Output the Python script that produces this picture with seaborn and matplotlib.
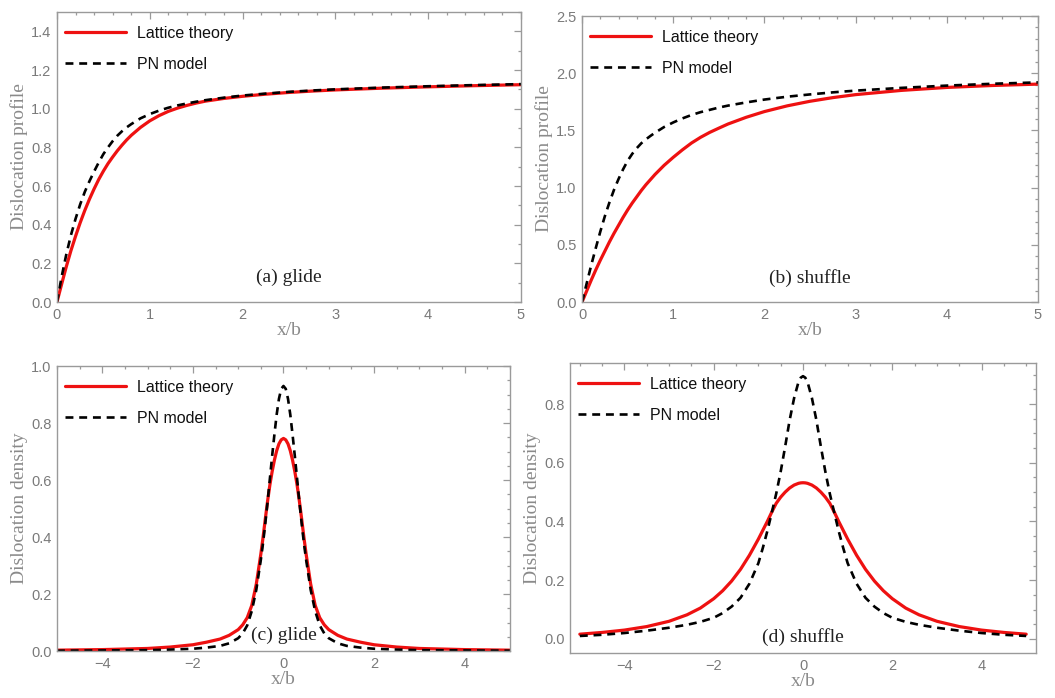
import numpy as np
import pandas as pd
import matplotlib
matplotlib.use("Agg")
import matplotlib.pyplot as plt
import seaborn as sns
from matplotlib.ticker import MultipleLocator, FuncFormatter

# ---------------- data ----------------
x_prof = [0, 0.05, 0.1, 0.15, 0.2, 0.25, 0.3, 0.35, 0.4, 0.45, 0.5, 0.55, 0.6, 0.65, 0.7, 0.75,
          0.8, 0.9, 1.0, 1.1, 1.2, 1.3, 1.4, 1.5, 1.6, 1.8, 2.0, 2.25, 2.5, 2.75, 3.0, 3.5, 4.0, 4.5, 5.0]

glide_lattice_prof = [0, 0.092, 0.182, 0.265, 0.34, 0.41, 0.474, 0.532, 0.585, 0.634, 0.677, 0.716,
                      0.75, 0.782, 0.811, 0.838, 0.862, 0.903, 0.937, 0.964, 0.986, 1.003, 1.017,
                      1.029, 1.039, 1.053, 1.064, 1.075, 1.084, 1.091, 1.097, 1.106, 1.113, 1.119, 1.124]
glide_pn_prof = [0, 0.13, 0.245, 0.345, 0.43, 0.505, 0.57, 0.625, 0.675, 0.722, 0.765, 0.80, 0.832,
                 0.86, 0.883, 0.903, 0.92, 0.95, 0.972, 0.99, 1.005, 1.017, 1.027, 1.036, 1.044,
                 1.057, 1.068, 1.078, 1.087, 1.094, 1.10, 1.109, 1.116, 1.122, 1.127]

shuffle_lattice_prof = [0, 0.095, 0.19, 0.28, 0.365, 0.445, 0.525, 0.60, 0.67, 0.74, 0.805, 0.865,
                        0.92, 0.975, 1.025, 1.07, 1.115, 1.195, 1.265, 1.33, 1.39, 1.44, 1.483,
                        1.52, 1.556, 1.615, 1.665, 1.715, 1.755, 1.787, 1.813, 1.85, 1.876, 1.893, 1.905]
shuffle_pn_prof = [0, 0.16, 0.32, 0.47, 0.615, 0.75, 0.87, 0.98, 1.075, 1.16, 1.235, 1.295, 1.345,
                   1.388, 1.422, 1.452, 1.48, 1.53, 1.57, 1.605, 1.635, 1.66, 1.68, 1.70, 1.717,
                   1.745, 1.77, 1.795, 1.815, 1.833, 1.848, 1.872, 1.892, 1.908, 1.92]

x_dens_glide = [-5.0, -4.0, -3.0, -2.5, -2.0, -1.7, -1.4, -1.2, -1.0, -0.9, -0.8, -0.7, -0.6, -0.5,
                -0.45, -0.4, -0.35, -0.3, -0.25, -0.2, -0.15, -0.1, -0.05, 0.0,
                0.05, 0.1, 0.15, 0.2, 0.25, 0.3, 0.35, 0.4, 0.45, 0.5, 0.6, 0.7, 0.8, 0.9, 1.0,
                1.2, 1.4, 1.7, 2.0, 2.5, 3.0, 4.0, 5.0]
glide_lattice_dens = [0.003, 0.005, 0.009, 0.014, 0.022, 0.031, 0.042, 0.055, 0.075, 0.092, 0.117,
                      0.16, 0.235, 0.34, 0.40, 0.465, 0.527, 0.583, 0.63, 0.67, 0.703, 0.727, 0.741,
                      0.746,
                      0.741, 0.727, 0.703, 0.67, 0.63, 0.583, 0.527, 0.465, 0.40, 0.34, 0.235, 0.16,
                      0.117, 0.092, 0.075, 0.055, 0.042, 0.031, 0.022, 0.014, 0.009, 0.005, 0.003]
glide_pn_dens = [0.001, 0.002, 0.003, 0.005, 0.008, 0.012, 0.018, 0.027, 0.045, 0.062, 0.09, 0.14,
                 0.215, 0.32, 0.38, 0.45, 0.525, 0.605, 0.685, 0.76, 0.83, 0.885, 0.92,
                 0.93,
                 0.92, 0.885, 0.83, 0.76, 0.685, 0.605, 0.525, 0.45, 0.38, 0.32, 0.215, 0.14, 0.09,
                 0.062, 0.045, 0.027, 0.018, 0.012, 0.008, 0.005, 0.003, 0.002, 0.001]

x_dens_shuffle = [-5.0, -4.5, -4.0, -3.5, -3.0, -2.6, -2.3, -2.0, -1.8, -1.6, -1.4, -1.2, -1.0,
                  -0.9, -0.8, -0.7, -0.6, -0.5, -0.4, -0.3, -0.2, -0.1, -0.05, 0.0,
                  0.05, 0.1, 0.2, 0.3, 0.4, 0.5, 0.6, 0.7, 0.8, 0.9, 1.0, 1.2, 1.4, 1.6, 1.8, 2.0,
                  2.3, 2.6, 3.0, 3.5, 4.0, 4.5, 5.0]
shuffle_lattice_dens = [0.016, 0.022, 0.03, 0.042, 0.06, 0.082, 0.105, 0.137, 0.164, 0.197, 0.237,
                        0.285, 0.34, 0.37, 0.40, 0.432, 0.462, 0.483, 0.50, 0.514, 0.524, 0.530,
                        0.5315, 0.532,
                        0.5315, 0.530, 0.524, 0.514, 0.50, 0.483, 0.462, 0.432, 0.40, 0.37, 0.34,
                        0.285, 0.237, 0.197, 0.164, 0.137, 0.105, 0.082, 0.06, 0.042, 0.03, 0.022, 0.016]
shuffle_pn_dens = [0.01, 0.014, 0.02, 0.028, 0.038, 0.048, 0.058, 0.072, 0.088, 0.11, 0.14, 0.188,
                   0.258, 0.31, 0.367, 0.43, 0.495, 0.57, 0.655, 0.745, 0.82, 0.876, 0.89,
                   0.895,
                   0.89, 0.876, 0.82, 0.745, 0.655, 0.57, 0.495, 0.43, 0.367, 0.31, 0.258, 0.188,
                   0.14, 0.11, 0.088, 0.072, 0.058, 0.048, 0.038, 0.028, 0.02, 0.014, 0.01]

series_names = ["Lattice theory", "PN model"]
panel_labels = ["(a) glide", "(b) shuffle", "(c) glide", "(d) shuffle"]

# ---------------- style ----------------
sns.set_style("white")
plt.rcParams["font.family"] = ["Liberation Sans", "DejaVu Sans"]

frame_col = "#9a9a9a"
tick_col = "#7a7a7a"
label_col = "#8a8a8a"
red = "#ee1111"


def fmt_one(v, pos):
    s = "%.1f" % v
    return s.replace("-", "\u2212")


def fmt_int(v, pos):
    s = "%g" % v
    return s.replace("-", "\u2212")


fig = plt.figure(figsize=(10.55, 6.98), dpi=100)

positions = [
    [0.054, 0.5673, 0.4398, 0.4155],
    [0.5517, 0.5673, 0.4322, 0.4097],
    [0.054, 0.0673, 0.4294, 0.4083],
    [0.5403, 0.0645, 0.4417, 0.4155],
]

panels = [
    (x_prof, glide_lattice_prof, glide_pn_prof, (0, 5), (0, 1.5), 1, 0.2, [0, 0.2, 0.4, 0.6, 0.8, 1.0, 1.2, 1.4], 0.1, "Dislocation profile", (2.5, 0.13)),
    (x_prof, shuffle_lattice_prof, shuffle_pn_prof, (0, 5), (0, 2.5), 1, 0.2, [0, 0.5, 1.0, 1.5, 2.0, 2.5], 0.1, "Dislocation profile", (2.5, 0.21)),
    (x_dens_glide, glide_lattice_dens, glide_pn_dens, (-5, 5), (0, 1.0), 2, 0.5, [0, 0.2, 0.4, 0.6, 0.8, 1.0], 0.05, "Dislocation density", (0.0, 0.056)),
    (x_dens_shuffle, shuffle_lattice_dens, shuffle_pn_dens, (-5.22, 5.22), (-0.048, 0.94), 2, 0.5, [0, 0.2, 0.4, 0.6, 0.8], 0.05, "Dislocation density", (0.0, 0.005)),
]

for i, (pos, p) in enumerate(zip(positions, panels)):
    xs, y_lat, y_pn, xlim, ylim, xmaj, xmin, yt, ymin, ylabel, (tx, ty) = p
    ax = fig.add_axes(pos)
    df = pd.DataFrame({"x": list(xs) * 2,
                       "y": list(y_lat) + list(y_pn),
                       "model": [series_names[0]] * len(xs) + [series_names[1]] * len(xs)})
    sns.lineplot(data=df[df.model == series_names[0]], x="x", y="y", ax=ax,
                 color=red, linewidth=2.3, label=series_names[0], estimator=None, sort=False)
    sns.lineplot(data=df[df.model == series_names[1]], x="x", y="y", ax=ax,
                 color="black", linewidth=1.9, label=series_names[1], estimator=None, sort=False,
                 linestyle=(0, (3.0, 2.2)))
    ax.set_xlim(*xlim)
    ax.set_ylim(*ylim)
    ax.xaxis.set_major_locator(MultipleLocator(xmaj))
    ax.xaxis.set_minor_locator(MultipleLocator(xmin))
    ax.set_yticks(yt)
    ax.yaxis.set_minor_locator(MultipleLocator(ymin))
    ax.yaxis.set_major_formatter(FuncFormatter(fmt_one))
    ax.xaxis.set_major_formatter(FuncFormatter(fmt_int))
    ax.tick_params(which="both", direction="in", top=True, right=True, colors=frame_col,
                   labelcolor=tick_col, labelsize=10.5, width=0.9)
    ax.tick_params(which="major", length=5, pad=4)
    ax.tick_params(which="minor", length=2.5)
    for s in ax.spines.values():
        s.set_color(frame_col)
        s.set_linewidth(1.0)
    ax.set_xlabel("x/b", family=["Liberation Serif"], fontsize=14, color=label_col, labelpad=0)
    ax.set_ylabel(ylabel, family=["Liberation Serif"], fontsize=14, color=label_col, labelpad=2)
    ax.text(tx, ty, panel_labels[i], family=["Liberation Serif"], fontsize=14, color="#222222",
            ha="center", va="center")
    leg = ax.legend(loc="upper left", bbox_to_anchor=(0.004, 0.975), frameon=False, fontsize=11.5,
                    handlelength=3.8, handletextpad=0.7, labelspacing=1.0, borderaxespad=0.0)
    for t in leg.get_texts():
        t.set_color("#111111")

fig.savefig("out.png", dpi=100)
